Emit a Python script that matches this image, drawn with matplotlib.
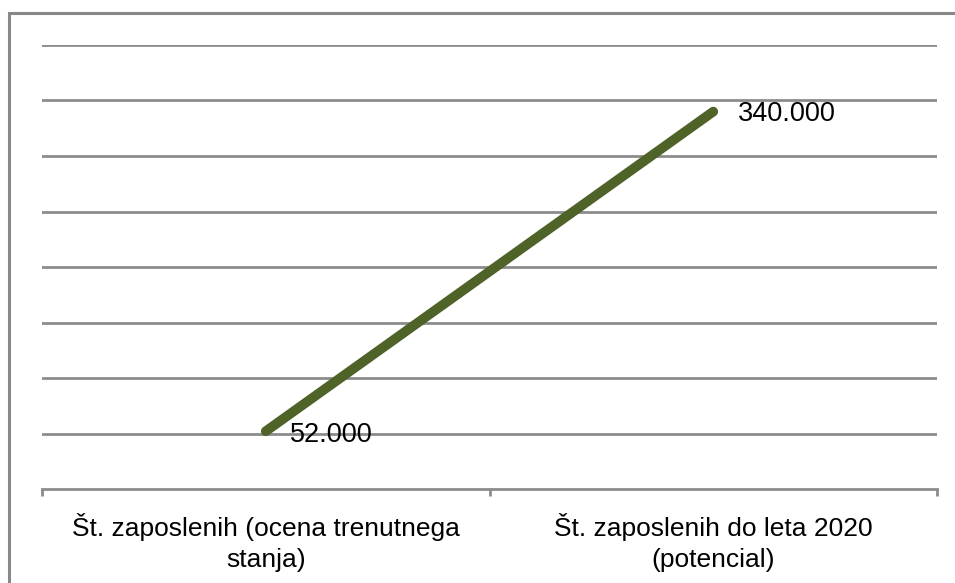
import matplotlib.pyplot as plt
from matplotlib.patches import Rectangle

# data
categories = ["Št. zaposlenih (ocena trenutnega\nstanja)", "Št. zaposlenih do leta 2020\n(potencial)"]
values = [52000, 340000]
value_labels = ["52.000", "340.000"]

plt.rcParams['font.family'] = ['Liberation Sans', 'DejaVu Sans']

fig = plt.figure(figsize=(9.55, 5.83), dpi=100)
ax = fig.add_axes([42/955, 1 - 489/583, 895/955, 444/583])

# outer frame (runs off the right and bottom edge)
fig.patches.append(Rectangle((9/955, -0.1), 1.0, 1 - 13/583 + 0.1, transform=fig.transFigure,
                             fill=False, edgecolor='#888888', linewidth=2.2, clip_on=False))

grid_color = '#8c8c8c'
for y in range(50000, 400001, 50000):
    ax.axhline(y, color=grid_color, linewidth=2, zorder=1)

x = list(range(len(categories)))
ax.plot(x, values, color='#4F6228', linewidth=7, solid_capstyle='round', zorder=3)

ax.text(x[0] + 0.055, values[0] - 3000, value_labels[0], fontsize=19.5, va='center', ha='left', zorder=4)
ax.text(x[1] + 0.055, values[1] - 2500, value_labels[1], fontsize=19.5, va='center', ha='left', zorder=4)

ax.set_xlim(-0.5, 1.5)
ax.set_ylim(0, 400000)
ax.set_xticks(x)
ax.set_xticklabels(categories, fontsize=19, linespacing=1.4)
ax.set_xticks([-0.5, 0.5, 1.5], minor=True)
ax.tick_params(axis='x', which='major', length=0, pad=17)
ax.tick_params(axis='x', which='minor', length=5, width=2, color=grid_color, direction='out')
ax.set_yticks([])

for s in ['top', 'left', 'right']:
    ax.spines[s].set_visible(False)
ax.spines['bottom'].set_color(grid_color)
ax.spines['bottom'].set_linewidth(2)

fig.savefig('out.png', dpi=100)
